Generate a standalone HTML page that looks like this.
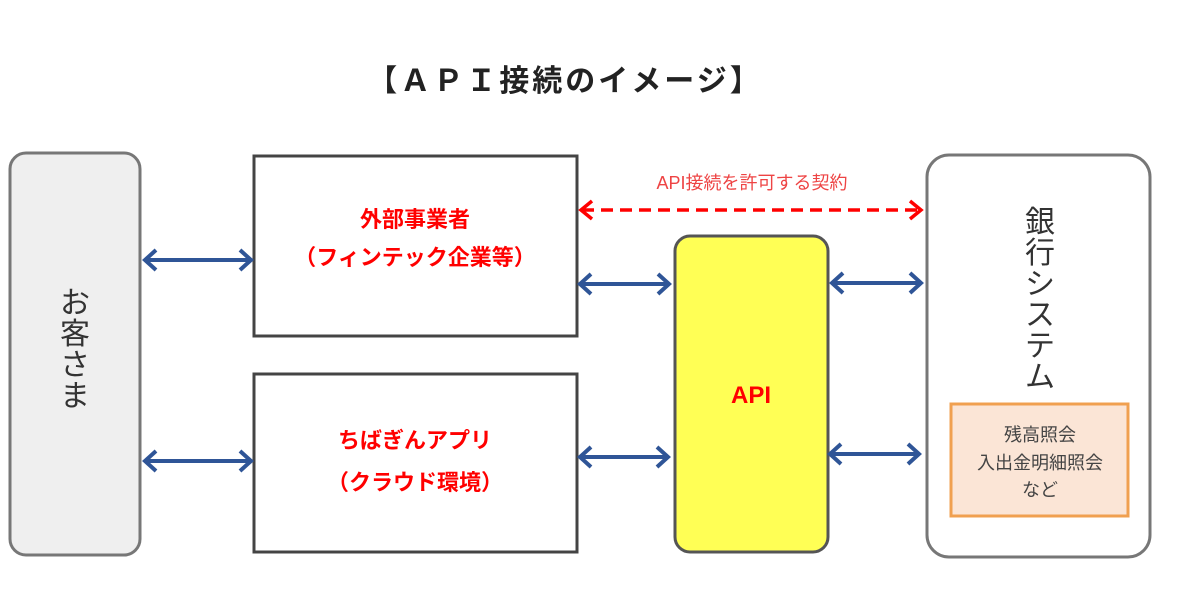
<!DOCTYPE html>
<html><head><meta charset="utf-8"><style>
html,body{margin:0;padding:0;background:#fff;}
svg{display:block;font-family:"Liberation Sans","Noto Sans CJK JP",sans-serif;}
</style></head><body>
<svg width="1200" height="600" viewBox="0 0 1200 600">
<text x="565" y="91" text-anchor="middle" font-size="30" font-weight="bold" fill="#222" letter-spacing="3">【ＡＰＩ接続のイメージ】</text>

<rect x="10" y="153" width="130" height="402" rx="16" fill="#efefef" stroke="#777" stroke-width="3"/>
<g font-size="30" fill="#333" text-anchor="middle">
<text x="75" y="313">お</text><text x="75" y="344">客</text><text x="75" y="375">さ</text><text x="75" y="406">ま</text>
</g>

<rect x="254" y="156" width="323" height="180" fill="#fff" stroke="#444" stroke-width="3"/>
<text x="415" y="227" text-anchor="middle" font-size="22" font-weight="bold" fill="#f00">外部事業者</text>
<text x="415" y="265" text-anchor="middle" font-size="22" font-weight="bold" fill="#f00">（フィンテック企業等）</text>

<rect x="254" y="374" width="323" height="178" fill="#fff" stroke="#444" stroke-width="3"/>
<text x="415" y="448" text-anchor="middle" font-size="22" font-weight="bold" fill="#f00">ちばぎんアプリ</text>
<text x="415" y="490" text-anchor="middle" font-size="22" font-weight="bold" fill="#f00">（クラウド環境）</text>

<rect x="675" y="236" width="153" height="316" rx="15" fill="#ffff55" stroke="#555" stroke-width="3"/>
<text x="751" y="403" text-anchor="middle" font-size="24" font-weight="bold" fill="#f00">API</text>

<rect x="927" y="155" width="223" height="402" rx="22" fill="#fff" stroke="#777" stroke-width="3"/>
<g font-size="30" fill="#333" text-anchor="middle">
<text x="1040" y="232">銀</text><text x="1040" y="263">行</text><text x="1040" y="294">シ</text><text x="1040" y="325">ス</text><text x="1040" y="356">テ</text><text x="1040" y="387">ム</text>
</g>
<rect x="951" y="404" width="177" height="112" fill="#fbe5d6" stroke="#f0a050" stroke-width="3"/>
<g font-size="18" fill="#444" text-anchor="middle">
<text x="1040" y="441">残高照会</text><text x="1040" y="469">入出金明細照会</text><text x="1040" y="496">など</text>
</g>

<text x="752" y="189" text-anchor="middle" font-size="18" fill="#ee4444">API接続を許可する契約</text>
<g stroke="#f00" stroke-width="3.5" fill="none">
<line x1="582" y1="210" x2="918" y2="210" stroke-dasharray="12,7"/>
<polyline points="592,201 581,210 592,219"/>
<polyline points="910,201 921,210 910,219"/>
</g>

<g stroke="#2f5597" stroke-width="4" fill="none" stroke-linejoin="miter">
<line x1="146" y1="260" x2="250" y2="260"/><polyline points="156,250 145,260 156,270"/><polyline points="240,250 251,260 240,270"/>
<line x1="146" y1="461" x2="250" y2="461"/><polyline points="156,451 145,461 156,471"/><polyline points="240,451 251,461 240,471"/>
<line x1="581" y1="284" x2="668" y2="284"/><polyline points="591,274 580,284 591,294"/><polyline points="658,274 669,284 658,294"/>
<line x1="581" y1="457" x2="667" y2="457"/><polyline points="591,447 580,457 591,467"/><polyline points="657,447 668,457 657,467"/>
<line x1="833" y1="283" x2="920" y2="283"/><polyline points="843,273 832,283 843,293"/><polyline points="910,273 921,283 910,293"/>
<line x1="831" y1="454" x2="918" y2="454"/><polyline points="841,444 830,454 841,464"/><polyline points="908,444 919,454 908,464"/>
</g>
</svg>
</body></html>
